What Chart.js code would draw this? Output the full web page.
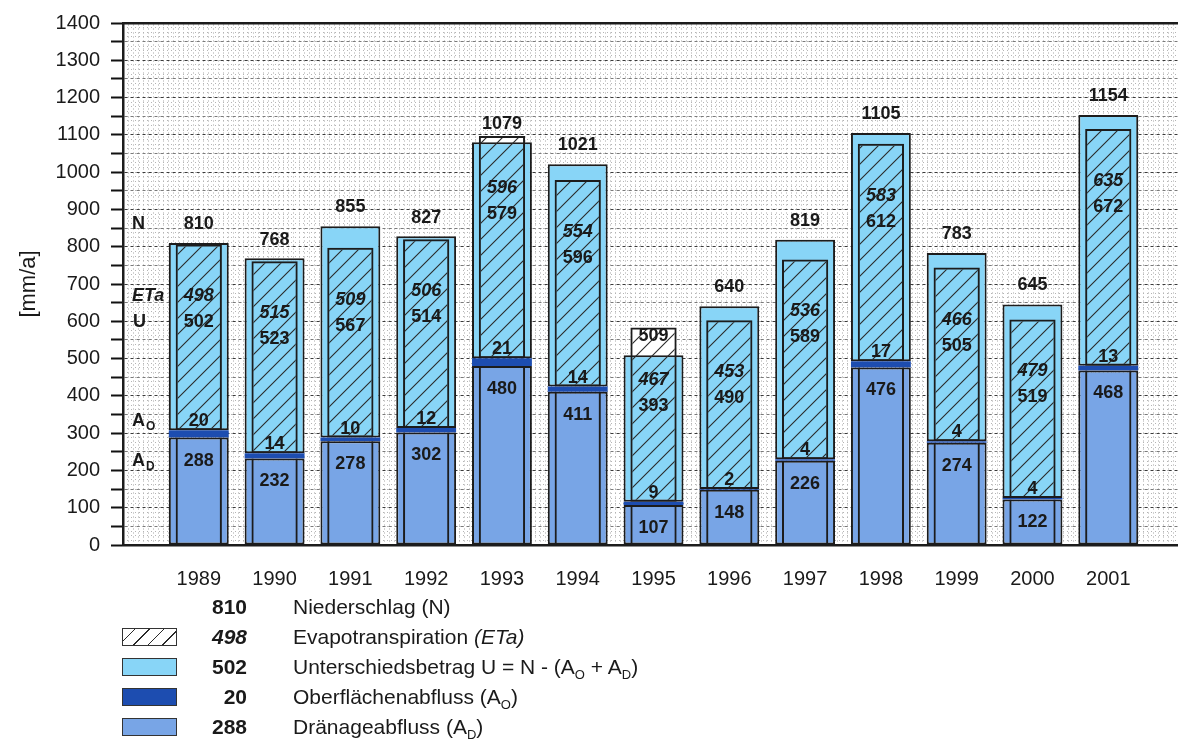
<!DOCTYPE html>
<html>
<head>
<meta charset="utf-8">
<title>Wasserbilanz 1989-2001</title>
<script src="https://cdn.jsdelivr.net/npm/chart.js@4.4.1/dist/chart.umd.min.js"></script>
<style>
  html, body { margin: 0; padding: 0; background: #fff; }
  #wrap { position: relative; width: 1178px; height: 746px; font-family: "Liberation Sans", Arial, sans-serif; color: #1a1a1a; }
  #wrap canvas { position: absolute; left: 0; top: 0; }
  .row { position: absolute; left: 0; width: 900px; height: 30px; }
  .sw { position: absolute; left: 122px; top: 6px; width: 53px; height: 16px; border: 1.5px solid #333; }
  .num { position: absolute; left: 170px; width: 77px; text-align: right; font-weight: bold; font-size: 21px; line-height: 30px; }
  .txt { position: absolute; left: 293px; font-size: 21px; line-height: 30px; white-space: nowrap; }
  sub { font-size: 13px; vertical-align: -5px; line-height: 0; }
</style>
</head>
<body>
<div id="wrap">
  <canvas id="chart"></canvas>
  <div id="legend"></div>
</div>
<script>
// values in mm/a
const years = [1989, 1990, 1991, 1992, 1993, 1994, 1995, 1996, 1997, 1998, 1999, 2000, 2001];
const niederschlag = [810, 768, 855, 827, 1079, 1021, 509, 640, 819, 1105, 783, 645, 1154];
const evapo = [498, 515, 509, 506, 596, 554, 467, 453, 536, 583, 466, 479, 635];
const unterschied = [502, 523, 567, 514, 579, 596, 393, 490, 589, 612, 505, 519, 672];
const oberflaeche = [20, 14, 10, 12, 21, 14, 9, 2, 4, 17, 4, 4, 13];
const draenage = [288, 232, 278, 302, 480, 411, 107, 148, 226, 476, 274, 122, 468];

const yTicks = { min: 0, max: 1400, step: 50 };

const legendRows = [
  { swatch: null, value: niederschlag[0], italic: false, text: 'Niederschlag (N)' },
  { swatch: 'hatch', value: evapo[0], italic: true, text: 'Evapotranspiration <i>(ETa)</i>' },
  { swatch: '#88d5f7', value: unterschied[0], italic: false, text: 'Unterschiedsbetrag U = N - (A<sub>O</sub> + A<sub>D</sub>)' },
  { swatch: '#1d4db0', value: oberflaeche[0], italic: false, text: 'Oberflächenabfluss (A<sub>O</sub>)' },
  { swatch: '#78a5e6', value: draenage[0], italic: false, text: 'Dränageabfluss (A<sub>D</sub>)' }
];

const FONT = '"Liberation Sans", Arial, sans-serif';
const INK = '#1c1c1c';
const X_MIN = 1988, X_MAX = 2001.92;

function hatchPattern() {
  const c = document.createElement('canvas');
  c.width = 16; c.height = 16;
  const g = c.getContext('2d');
  g.strokeStyle = '#2a2a2a';
  g.lineWidth = 1.1;
  g.beginPath();
  g.moveTo(0, 16); g.lineTo(16, 0);
  g.moveTo(-2, 2); g.lineTo(2, -2);
  g.moveTo(14, 18); g.lineTo(18, 14);
  g.stroke();
  return g.createPattern(c, 'repeat');
}

const base = years.map((yr, i) => draenage[i] + oberflaeche[i]);
const pts = arr => years.map((yr, i) => ({ x: yr, y: arr[i] }));
const etaRange = years.map((yr, i) => ({ x: yr, y: [base[i], base[i] + evapo[i]] }));
const adRange = years.map((yr, i) => ({ x: yr, y: [0, draenage[i]] }));

const OUTER = 0.79, INNER = 0.61;

const valueLabels = {
  id: 'valueLabels',
  afterDatasetsDraw(chart) {
    const { ctx, scales: { x, y } } = chart;
    ctx.save();
    ctx.fillStyle = '#1a1a1a';
    ctx.textBaseline = 'middle';
    ctx.textAlign = 'center';
    const bold = 'bold 18px ' + FONT;
    const boldIt = 'italic bold 18px ' + FONT;
    years.forEach((yr, i) => {
      const cx = x.getPixelForValue(yr);
      const etaTop = y.getPixelForValue(base[i] + evapo[i]);
      ctx.font = bold;
      ctx.fillText(String(niederschlag[i]), cx, y.getPixelForValue(niederschlag[i]) - 19);
      ctx.fillText(String(unterschied[i]), cx, etaTop + 78);
      ctx.fillText(String(oberflaeche[i]), cx, y.getPixelForValue(base[i]) - 9);
      ctx.fillText(String(draenage[i]), cx, y.getPixelForValue(draenage[i]) + 23);
      ctx.font = boldIt;
      ctx.fillText(String(evapo[i]), cx, etaTop + 52);
    });
    // row names left of the first column
    const lx = x.left + 9;
    const etaTop0 = y.getPixelForValue(base[0] + evapo[0]);
    ctx.textAlign = 'left';
    ctx.font = bold;
    ctx.fillText('N', lx, y.getPixelForValue(niederschlag[0]) - 19);
    ctx.fillText('U', lx + 1, etaTop0 + 78);
    const sub = (main, s, yy) => {
      ctx.font = bold;
      ctx.fillText(main, lx, yy);
      const w = ctx.measureText(main).width;
      ctx.font = 'bold 12px ' + FONT;
      ctx.fillText(s, lx + w + 1, yy + 6);
    };
    sub('A', 'O', y.getPixelForValue(base[0]) - 9);
    sub('A', 'D', y.getPixelForValue(draenage[0]) + 23);
    ctx.font = boldIt;
    ctx.fillText('ETa', lx, etaTop0 + 52);
    ctx.restore();
  }
};

Chart.defaults.font.family = FONT;
Chart.defaults.color = '#1a1a1a';

const hatch = hatchPattern();

new Chart(document.getElementById('chart'), {
  type: 'bar',
  data: {
    datasets: [
      { label: 'ETa Hintergrund', data: etaRange, stack: 'eb', order: 10, grouped: false,
        backgroundColor: '#ffffff', borderWidth: 0, barPercentage: INNER, categoryPercentage: 1 },
      { label: 'Dränageabfluss', data: pts(draenage), stack: 'n', order: 2, grouped: false,
        backgroundColor: '#78a5e6', borderColor: INK, borderWidth: 2, borderSkipped: false,
        barPercentage: OUTER, categoryPercentage: 1 },
      { label: 'Oberflächenabfluss', data: pts(oberflaeche), stack: 'n', order: 3, grouped: false,
        backgroundColor: '#1d4db0', borderWidth: 0, barPercentage: OUTER, categoryPercentage: 1 },
      { label: 'Unterschiedsbetrag', data: pts(unterschied), stack: 'n', order: 4, grouped: false,
        backgroundColor: '#88d5f7', borderColor: INK, borderWidth: 2, borderSkipped: false,
        barPercentage: OUTER, categoryPercentage: 1 },
      { label: 'Dränage innen', data: adRange, stack: 'al', order: 1, grouped: false,
        backgroundColor: 'rgba(0,0,0,0)', borderColor: INK,
        borderWidth: { left: 2, right: 2, top: 0, bottom: 0 }, borderSkipped: false,
        barPercentage: INNER, categoryPercentage: 1 },
      { label: 'Evapotranspiration', data: etaRange, stack: 'ef', order: 0, grouped: false,
        backgroundColor: hatch, borderColor: INK, borderWidth: 2, borderSkipped: false,
        barPercentage: INNER, categoryPercentage: 1 }
    ]
  },
  options: {
    responsive: true,
    maintainAspectRatio: false,
    animation: false,
    layout: { padding: { top: 20, right: 0, bottom: 151, left: 0 } },
    plugins: { legend: { display: false }, tooltip: { enabled: false } },
    scales: {
      x: {
        type: 'linear', position: 'bottom', min: X_MIN, max: X_MAX, offset: false,
        grid: { display: false, drawTicks: false, offset: false },
        border: { display: true, color: INK, width: 2.5 },
        ticks: {
          stepSize: 1, includeBounds: false, autoSkip: false, maxRotation: 0, padding: 22,
          font: { size: 20 }, color: '#1a1a1a',
          callback: v => (v === X_MIN ? '' : String(v))
        },
        afterFit: s => { s.height = 50; }
      },
      xg: {
        type: 'linear', position: 'top', min: X_MIN * 15, max: X_MAX * 15,
        ticks: { display: false, stepSize: 1, includeBounds: false },
        grid: { color: '#a6a6a6', lineWidth: 1, drawTicks: false, z: -2 },
        border: { display: true, color: INK, width: 2.5, dash: [1, 3] },
        afterFit: s => { s.height = 0; }
      },
      y: {
        type: 'linear', position: 'left', stacked: true, min: yTicks.min, max: yTicks.max,
        grid: {
          color: c => (c.tick && c.tick.value % 100 === 0 ? '#3a3a3a' : '#7a7a7a'),
          lineWidth: 1, tickLength: 12, tickColor: '#111', tickWidth: 2, z: -1
        },
        border: { display: true, color: INK, width: 2.5, dash: [3, 3] },
        ticks: {
          stepSize: yTicks.step, autoSkip: false, padding: 11,
          font: { size: 20 }, color: '#1a1a1a',
          callback: v => (v % 100 === 0 ? String(v) : '')
        },
        title: { display: true, text: '[mm/a]', font: { size: 22 }, color: '#1a1a1a', padding: { top: 16, bottom: 0 } },
        afterFit: s => { s.width = 123; }
      },
      yg: {
        type: 'linear', position: 'right', min: yTicks.min, max: yTicks.max,
        ticks: { display: false, stepSize: 12.5 },
        grid: { color: '#b4b4b4', lineWidth: 1, drawTicks: false, z: -2 },
        border: { display: false, dash: [1, 3] },
        afterFit: s => { s.width = 0; }
      }
    }
  },
  plugins: [valueLabels]
});

// legend below the plot
const legend = document.getElementById('legend');
legendRows.forEach((r, i) => {
  const row = document.createElement('div');
  row.className = 'row';
  row.style.top = (592 + i * 30) + 'px';
  if (r.swatch) {
    const sw = document.createElement('div');
    sw.className = 'sw';
    if (r.swatch === 'hatch') {
      sw.style.background = '#fff repeating-linear-gradient(-45deg, transparent 0 9px, #2a2a2a 9px 10.2px)';
    } else {
      sw.style.background = r.swatch;
    }
    row.appendChild(sw);
  }
  const num = document.createElement('div');
  num.className = 'num';
  if (r.italic) num.style.fontStyle = 'italic';
  num.textContent = r.value;
  row.appendChild(num);
  const txt = document.createElement('div');
  txt.className = 'txt';
  txt.innerHTML = r.text;
  row.appendChild(txt);
  legend.appendChild(row);
});
</script>
</body>
</html>
